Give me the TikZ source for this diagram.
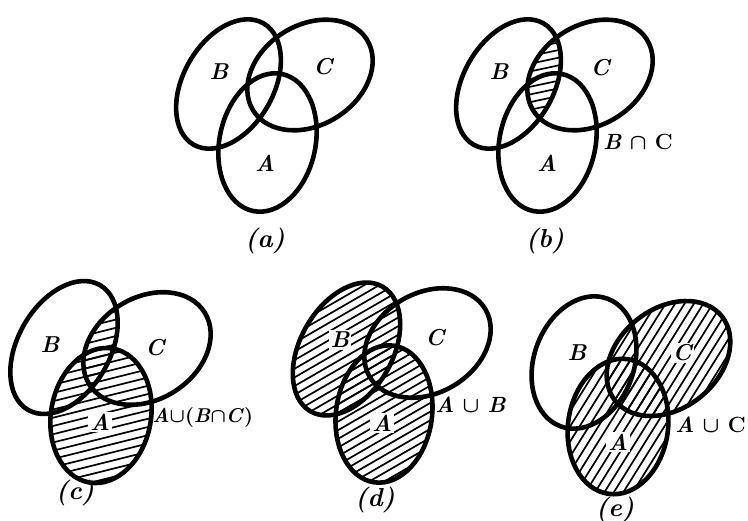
\documentclass[tikz,border=0pt]{standalone}
\usepackage{amsmath}
\tikzset{
  x=0.5pt, y=0.5pt,
  venn/.style={line width=2.3pt},
  hatchline/.style={line width=0.85pt},
  lbl/.style={font=\fontsize{11.5}{13}\selectfont\bfseries\itshape, inner sep=0pt},
  capt/.style={font=\fontsize{13}{15}\selectfont\bfseries\itshape, inner sep=0pt},
  expr/.style={font=\fontsize{11}{13}\selectfont\bfseries, inner sep=0pt, anchor=west},
}
\newcommand\hatchlines[4]{%
  \begin{scope}[rotate around={#3:(#1,#2)}]
    \foreach \k in {-24,...,24}{\draw[hatchline] ({#1-180},{#2+\k*#4}) -- ({#1+180},{#2+\k*#4});}
  \end{scope}}
% (a)
\def\aB{(228.5,436) ellipse [x radius=70, y radius=45, rotate=60]}
\def\aC{(310,445) ellipse [x radius=67, y radius=50, rotate=32]}
\def\aA{(267.5,377.5) ellipse [x radius=48, y radius=70, rotate=-12]}
% (b)
\def\bB{(508.5,436) ellipse [x radius=70, y radius=45, rotate=60]}
\def\bC{(590,445) ellipse [x radius=67, y radius=50, rotate=32]}
\def\bA{(547.5,377.5) ellipse [x radius=48, y radius=70, rotate=-12]}
% (c)
\def\cB{(64,172.5) ellipse [x radius=72, y radius=46, rotate=60]}
\def\cC{(147,171.5) ellipse [x radius=68, y radius=51, rotate=32]}
\def\cA{(101,104.5) ellipse [x radius=50, y radius=68, rotate=-10]}
% (d)
\def\dB{(346.5,171) ellipse [x radius=72, y radius=46, rotate=60]}
\def\dC{(427.5,177) ellipse [x radius=67, y radius=50, rotate=30]}
\def\dA{(384,106) ellipse [x radius=48, y radius=69, rotate=-8]}
% (e)
\def\eB{(584,157.5) ellipse [x radius=68, y radius=50, rotate=70]}
\def\eC{(668.5,161.5) ellipse [x radius=68, y radius=50, rotate=38]}
\def\eA{(618,93.5) ellipse [x radius=50, y radius=68, rotate=-8]}
\begin{document}
\begin{tikzpicture}
\useasboundingbox (0,0) rectangle (748,520);
\fill[white] (0,0) rectangle (748,520);
% ---------- (a)
\draw[venn] \aB; \draw[venn] \aC; \draw[venn] \aA;
\node[lbl] (aBl) at (219,448) {B};
\node[lbl] (aCl) at (323,453) {C};
\node[lbl] (aAl) at (265,357) {A};
\node[capt] (acap) at (265,279) {(a)};
% ---------- (b)
\begin{scope}
  \clip \bB; \clip \bC;
  \hatchlines{540}{420}{12}{7.5}
\end{scope}
\draw[venn] \bB; \draw[venn] \bC; \draw[venn] \bA;
\node[lbl] (bBl) at (499,448) {B};
\node[lbl] (bCl) at (600,452) {C};
\node[lbl] (bAl) at (547,357) {A};
\node[expr] (bex) at (603,378) {\textit{B} $\boldsymbol{\cap}$ C};
\node[capt] (bcap) at (545,279) {(b)};
% ---------- (c)
\begin{scope}
  \clip \cA;
  \hatchlines{105}{140}{14}{8}
\end{scope}
\begin{scope}
  \clip \cB; \clip \cC;
  \hatchlines{105}{140}{14}{8}
\end{scope}
\draw[venn] \cB; \draw[venn] \cC; \draw[venn] \cA;
\node[lbl,fill=white,inner sep=1pt] (cAl) at (100,98) {A};
\node[lbl] (cBl) at (50,175) {B};
\node[lbl] (cCl) at (155,172) {C};
\node[expr,font=\fontsize{10}{12}\selectfont\bfseries] (cex) at (152,103) {\textit{A}$\boldsymbol{\cup}$(\textit{B}$\boldsymbol{\cap}$\textit{C})};
\node[capt] (ccap) at (75,27) {(c)};
% ---------- (d)
\begin{scope}
  \clip \dA;
  \hatchlines{380}{140}{30}{7.5}
\end{scope}
\begin{scope}
  \clip \dB;
  \hatchlines{380}{140}{30}{7.5}
\end{scope}
\draw[venn] \dB; \draw[venn] \dC; \draw[venn] \dA;
\node[lbl,fill=white,inner sep=1pt] (dBl) at (340,180) {B};
\node[lbl,fill=white,inner sep=1pt] (dAl) at (382,97) {A};
\node[lbl] (dCl) at (435,182) {C};
\node[expr] (dex) at (435,115) {\textit{A} $\boldsymbol{\cup}$ \textit{B}};
\node[capt] (dcap) at (375,20) {(d)};
% ---------- (e)
\begin{scope}
  \clip \eA;
  \hatchlines{640}{130}{58}{8}
\end{scope}
\begin{scope}
  \clip \eC;
  \hatchlines{640}{130}{58}{8}
\end{scope}
\draw[venn] \eB; \draw[venn] \eC; \draw[venn] \eA;
\node[lbl] (eBl) at (577,167) {B};
\node[lbl,fill=white,inner sep=1pt] (eCl) at (682,167) {C};
\node[lbl,fill=white,inner sep=1pt] (eAl) at (618,78) {A};
\node[expr] (eex) at (675,95) {\textit{A} $\boldsymbol{\cup}$ C};
\node[capt] (ecap) at (615,10) {(e)};
\end{tikzpicture}
\end{document}
